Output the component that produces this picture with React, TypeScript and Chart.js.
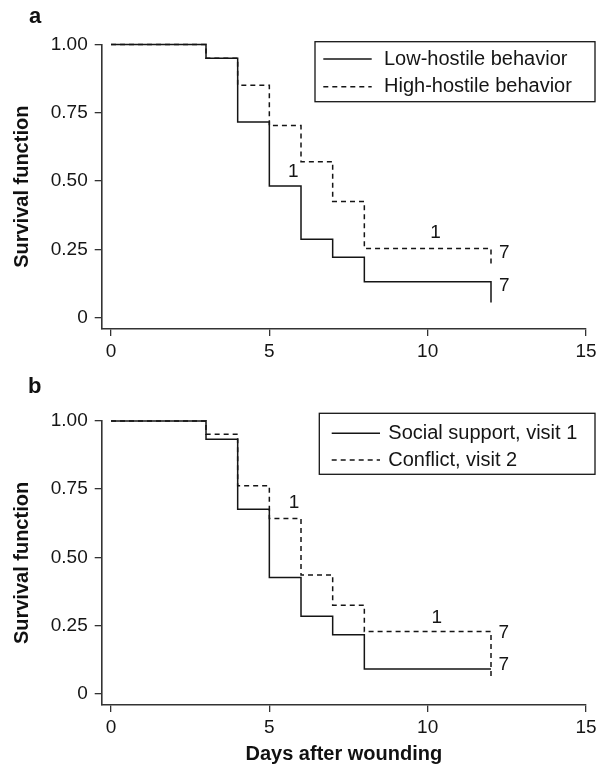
import React, { useEffect, useRef } from "react";
import { Chart, registerables } from "chart.js";

Chart.register(...registerables);

const FONT = '"Liberation Sans", Arial, Helvetica, sans-serif';
const INK = "#151515";

// Panel a
const daysLowHostile = [0, 3, 4, 5, 6, 7, 8, 12, 12];
const survLowHostile = [1, 0.95, 0.716, 0.482, 0.287, 0.221, 0.131, 0.131, 0.055];
const daysHighHostile = [0, 3, 4, 5, 6, 7, 8, 12, 12];
const survHighHostile = [1, 0.95, 0.851, 0.703, 0.571, 0.425, 0.253, 0.253, 0.19];
const annA_x = [5.76, 10.25, 12.42, 12.42];
const annA_y = [0.533, 0.309, 0.239, 0.118];
const annA_text = ["1", "1", "7", "7"];

// Panel b
const daysSupport = [0, 3, 4, 5, 6, 7, 8, 12];
const survSupport = [1, 0.933, 0.676, 0.426, 0.284, 0.216, 0.09, 0.09];
const daysConflict = [0, 3, 4, 5, 6, 7, 8, 12, 12];
const survConflict = [1, 0.951, 0.762, 0.642, 0.435, 0.324, 0.228, 0.228, 0.061];
const annB_x = [5.78, 10.29, 12.4, 12.4];
const annB_y = [0.7, 0.277, 0.222, 0.106];
const annB_text = ["1", "1", "7", "7"];

const xTicks = [0, 5, 10, 15];
const yTicks = [0, 0.25, 0.5, 0.75, 1];
const yTickLabels = ["0", "0.25", "0.50", "0.75", "1.00"];

const toPts = (xs: number[], ys: number[]) => xs.map((x, i) => ({ x, y: ys[i] }));

const annotPlugin = {
  id: "annot",
  afterDatasetsDraw(chart: any, _args: any, opts: any) {
    const { ctx, scales } = chart;
    ctx.save();
    ctx.font = `19px ${FONT}`;
    ctx.fillStyle = INK;
    ctx.textAlign = "center";
    ctx.textBaseline = "middle";
    (opts.xs || []).forEach((x: number, i: number) => {
      ctx.fillText(opts.texts[i], scales.x.getPixelForValue(x), scales.y.getPixelForValue(opts.ys[i]));
    });
    ctx.restore();
  },
};

const boxLegendPlugin = {
  id: "boxLegend",
  afterDraw(chart: any, _args: any, opts: any) {
    const { ctx } = chart;
    ctx.save();
    ctx.strokeStyle = INK;
    ctx.lineWidth = 1.3;
    ctx.strokeRect(opts.x, opts.y, opts.w, opts.h);
    chart.data.datasets.forEach((ds: any, i: number) => {
      const y = opts.rows[i];
      ctx.beginPath();
      ctx.setLineDash(ds.borderDash || []);
      ctx.lineWidth = 1.4;
      ctx.moveTo(opts.lx0, y);
      ctx.lineTo(opts.lx1, y);
      ctx.stroke();
      ctx.setLineDash([]);
      ctx.font = `20px ${FONT}`;
      ctx.fillStyle = INK;
      ctx.textAlign = "left";
      ctx.textBaseline = "middle";
      ctx.fillText(ds.label, opts.tx, y);
    });
    ctx.restore();
  },
};

const panelLabelPlugin = {
  id: "panelLabel",
  afterDraw(chart: any, _args: any, opts: any) {
    const { ctx } = chart;
    ctx.save();
    ctx.font = `bold 22px ${FONT}`;
    ctx.fillStyle = "#111";
    ctx.textAlign = "left";
    ctx.textBaseline = "alphabetic";
    ctx.fillText(opts.text, opts.x, opts.y);
    ctx.restore();
  },
};

function makeConfig(p: any) {
  const line = (label: string, data: any, dash: number[]) => ({
    label,
    data,
    borderColor: INK,
    borderWidth: 1.5,
    borderDash: dash,
    pointRadius: 0,
    stepped: true,
    fill: false,
    clip: false as any,
  });
  return {
    type: "line" as const,
    data: {
      datasets: [line(p.labels[0], p.d0, []), line(p.labels[1], p.d1, [5, 4])],
    },
    plugins: [annotPlugin, boxLegendPlugin, panelLabelPlugin],
    options: {
      animation: false as const,
      responsive: false,
      devicePixelRatio: 1,
      layout: { padding: { top: p.top, left: 0, right: 16, bottom: 0 } },
      plugins: {
        legend: { display: false },
        tooltip: { enabled: false },
        annot: p.annot,
        boxLegend: p.legend,
        panelLabel: p.panel,
      },
      scales: {
        x: {
          type: "linear" as const,
          min: -0.294,
          max: 15,
          afterFit: (s: any) => {
            s.height = p.xHeight;
          },
          afterBuildTicks: (s: any) => {
            s.ticks = xTicks.map((v) => ({ value: v }));
          },
          grid: { drawOnChartArea: false, drawTicks: true, tickLength: 7, color: "#333", lineWidth: 1.3 },
          border: { display: true, color: "#333", width: 1.6 },
          ticks: { color: INK, font: { family: FONT, size: 19 }, padding: 4, maxRotation: 0 },
          title: {
            display: !!p.xTitle,
            text: p.xTitle || "",
            color: "#111",
            font: { family: FONT, size: 20, weight: "bold" as const },
            padding: { top: 0, bottom: 0 },
          },
        },
        y: {
          type: "linear" as const,
          min: -0.042,
          max: 1,
          afterFit: (s: any) => {
            s.width = 101.7;
          },
          afterBuildTicks: (s: any) => {
            s.ticks = yTicks.map((v) => ({ value: v }));
          },
          grid: { drawOnChartArea: false, drawTicks: true, tickLength: 7, color: "#333", lineWidth: 1.3 },
          border: { display: true, color: "#333", width: 1.6 },
          ticks: {
            color: INK,
            font: { family: FONT, size: 19 },
            padding: 7,
            callback: (v: any) => {
              const i = yTicks.indexOf(Number(v));
              return i >= 0 ? yTickLabels[i] : "";
            },
          },
          title: {
            display: true,
            text: "Survival function",
            color: "#111",
            font: { family: FONT, size: 20, weight: "bold" as const },
            padding: { top: 10, bottom: 0 },
          },
        },
      },
    },
  };
}

function Panel(props: { cfg: any; height: number }) {
  const ref = useRef<HTMLCanvasElement>(null);
  useEffect(() => {
    if (!ref.current) return;
    const chart = new Chart(ref.current, props.cfg);
    return () => chart.destroy();
  }, []);
  return <canvas ref={ref} width={602} height={props.height} style={{ display: "block", width: 602, height: props.height }} />;
}

export default function App() {
  const cfgA = makeConfig({
    labels: ["Low-hostile behavior", "High-hostile behavior"],
    d0: toPts(daysLowHostile, survLowHostile),
    d1: toPts(daysHighHostile, survHighHostile),
    top: 44.5,
    xHeight: 37,
    annot: { xs: annA_x, ys: annA_y, texts: annA_text },
    legend: { x: 315, y: 41.7, w: 280, h: 60, lx0: 323.3, lx1: 371.7, tx: 384, rows: [59, 86.7] },
    panel: { text: "a", x: 29, y: 23.3 },
  });
  const cfgB = makeConfig({
    labels: ["Social support, visit 1", "Conflict, visit 2"],
    d0: toPts(daysSupport, survSupport),
    d1: toPts(daysConflict, survConflict),
    top: 55,
    xHeight: 61,
    xTitle: "Days after wounding",
    annot: { xs: annB_x, ys: annB_y, texts: annB_text },
    legend: { x: 319.3, y: 47.3, w: 275.7, h: 61, lx0: 331.7, lx1: 380, tx: 388.3, rows: [67.3, 94] },
    panel: { text: "b", x: 28, y: 27.3 },
  });
  return (
    <div style={{ position: "absolute", left: 0, top: 0, width: 602, height: 766, background: "#fff" }}>
      <Panel cfg={cfgA} height={366} />
      <Panel cfg={cfgB} height={400} />
    </div>
  );
}
